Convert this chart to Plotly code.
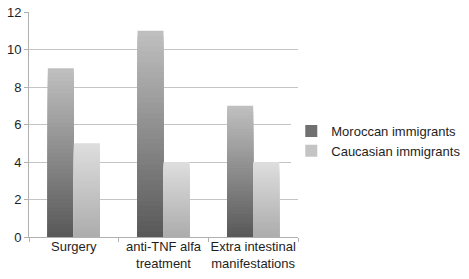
import plotly.graph_objects as go

categories = ["Surgery", "anti-TNF alfa<br>treatment", "Extra intestinal<br>manifestations"]
moroccan = [9, 11, 7]
caucasian = [5, 4, 4]
series_names = ["Moroccan immigrants", "Caucasian immigrants"]
y_ticks = [0, 2, 4, 6, 8, 10, 12]

N = 40

def lerp(c1, c2, t):
    return "rgb(%d,%d,%d)" % tuple(round(a + (b - a) * t) for a, b in zip(c1, c2))

styles = [
    dict(values=moroccan, bottom=(88, 88, 88), top=(192, 192, 192), legend="#707070", group="m"),
    dict(values=caucasian, bottom=(172, 172, 172), top=(222, 222, 222), legend="#c4c4c4", group="c"),
]

fig = go.Figure()
for name, st in zip(series_names, styles):
    vals = st["values"]
    # draw tallest first, then progressively shorter bars on top (gradient)
    for k in range(N, 0, -1):
        t = (k - 0.5) / N
        fig.add_trace(go.Bar(
            x=categories,
            y=[v * k / N for v in vals],
            offsetgroup=st["group"],
            marker=dict(color=lerp(st["bottom"], st["top"], t), line=dict(width=0)),
            name=name,
            legendgroup=st["group"],
            showlegend=False,
            hoverinfo="skip",
        ))
    fig.add_trace(go.Bar(
        x=[categories[0]], y=[None],
        offsetgroup=st["group"],
        marker=dict(color=st["legend"], line=dict(width=0)),
        name=name, legendgroup=st["group"], showlegend=True,
    ))

fig.update_layout(
    width=469, height=279,
    margin=dict(l=29, r=171, t=12, b=42, autoexpand=False),
    paper_bgcolor="white", plot_bgcolor="white",
    barmode="group", bargap=0.42, bargroupgap=0,
    font=dict(family="Liberation Sans, Arial, sans-serif", size=12, color="#1e1e1e"),
    showlegend=True,
    legend=dict(x=0.975, y=0.427, xanchor="left", yanchor="middle",
                font=dict(size=13, color="#1e1e1e"), traceorder="normal",
                itemwidth=30, tracegroupgap=5),
    xaxis=dict(
        type="category", tickson="boundaries", ticks="outside", ticklen=4,
        tickcolor="#b0b0b0", showline=True, linecolor="#b0b0b0", linewidth=1,
        showgrid=False, tickangle=0, automargin=False, ticklabelstandoff=-3,
        tickfont=dict(size=13, color="#1e1e1e"),
    ),
    yaxis=dict(
        range=[0, 12], tickvals=y_ticks, ticks="outside", ticklen=4,
        tickcolor="#b0b0b0", showline=True, linecolor="#b0b0b0", linewidth=1,
        showgrid=True, gridcolor="#c4c4c4", gridwidth=1, zeroline=False,
        automargin=False, tickfont=dict(size=13, color="#1e1e1e"),
    ),
)

fig.write_html(
    "out.html",
    config={"displayModeBar": False, "staticPlot": True},
    post_script="document.body.style.margin='0';document.body.style.padding='0';",
)
